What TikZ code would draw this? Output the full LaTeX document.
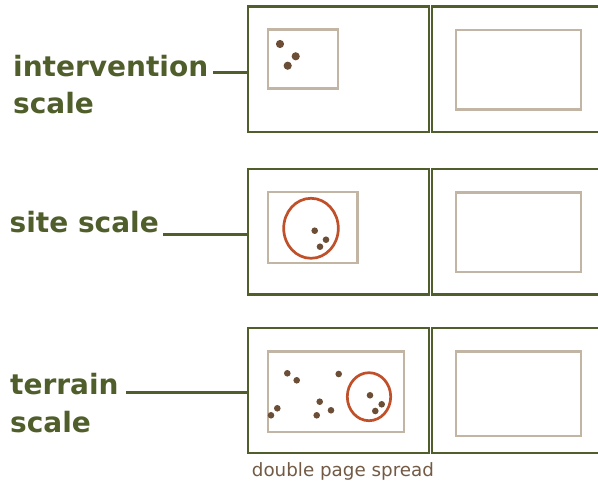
\documentclass[tikz,border=0pt]{standalone}
\usepackage{fontspec}
\setmainfont{DejaVu Sans}
\definecolor{olive}{HTML}{4F5E2B}
\definecolor{taupe}{HTML}{C2B5A3}
\definecolor{dotbrown}{HTML}{6B4E35}
\definecolor{rust}{HTML}{C0502A}
\definecolor{capbrown}{HTML}{725A45}
\begin{document}
\begin{tikzpicture}[x=1pt,y=-1pt,
  page/.style={draw=olive, line width=2.2pt, rectangle, inner sep=0pt, outer sep=0pt, anchor=north west},
  frame/.style={draw=taupe, line width=2.4pt},
  zone/.style={draw=rust, line width=2.7pt},
  spot/.style={fill=dotbrown, draw=none},
  lab/.style={font=\bfseries\fontsize{28}{37}\selectfont, text=olive, anchor=base west, inner sep=0pt},
  link/.style={draw=olive, line width=2.6pt},
  captext/.style={font=\fontsize{18.3}{22}\selectfont, text=capbrown, anchor=base west, inner sep=0pt}]
\useasboundingbox (0,0) rectangle (598,481);
\clip (0,0) rectangle (598,481);
% panels
\node[page, minimum width=180.8pt, minimum height=125.5pt] (p1L) at (248,6.5) {};
\node[page, minimum width=180pt, minimum height=125.5pt] (p1R) at (431.6,6.5) {};
\node[page, minimum width=180.8pt, minimum height=125.5pt] (p2L) at (248,169) {};
\node[page, minimum width=180pt, minimum height=125.5pt] (p2R) at (431.6,169) {};
\node[page, minimum width=180.8pt, minimum height=125pt] (p3L) at (248,328) {};
\node[page, minimum width=180pt, minimum height=125pt] (p3R) at (431.6,328) {};
% inner frames
\draw[frame] (268,29.5) rectangle (338,88.5);
\draw[frame] (456,30) rectangle (581,109.5);
\draw[frame] (268,192) rectangle (357.5,263);
\draw[frame] (456,192.5) rectangle (581,272);
\draw[frame] (268,351.5) rectangle (404,432);
\draw[frame] (456,351.5) rectangle (581,436);
% ellipses
\draw[zone] (311,228.3) ellipse [x radius=27.3pt, y radius=30pt];
\draw[zone] (369,396.7) ellipse [x radius=21.7pt, y radius=24pt];
% dots panel 1
\foreach \p in {(280,44),(295.7,56.3),(287.7,65.7)} \fill[spot] \p circle [radius=4.1pt];
% dots panel 2
\foreach \p in {(314.7,230.7),(326,239.7),(320,246.7)} \fill[spot] \p circle [radius=3.3pt];
% dots panel 3
\foreach \p in {(287.3,373.3),(296.7,380.3),(338.7,374),(277.3,408.3),(271,415.3),(319.7,401.7),(316.7,415.3),(331,410.3),(370,395.3),(381.7,404.3),(375.3,411)} \fill[spot] \p circle [radius=3.3pt];
% labels
\node[lab] (l1a) at (13,76.7) {intervention};
\node[lab] (l1b) at (13,113.3) {scale};
\node[lab] (l2) at (9.5,232.3) {site scale};
\node[lab] (l3a) at (10,394.3) {terrain};
\node[lab] (l3b) at (10,432.5) {scale};
% connectors
\coordinate (c1) at (213,72.3);
\coordinate (c2) at (163,234.5);
\coordinate (c3) at (126,392.7);
\draw[link] (c1) -- (c1 -| p1L.west);
\draw[link] (c2) -- (c2 -| p2L.west);
\draw[link] (c3) -- (c3 -| p3L.west);
% caption
\node[captext] (caption) at (251.7,476) {double page spread};
\end{tikzpicture}
\end{document}
